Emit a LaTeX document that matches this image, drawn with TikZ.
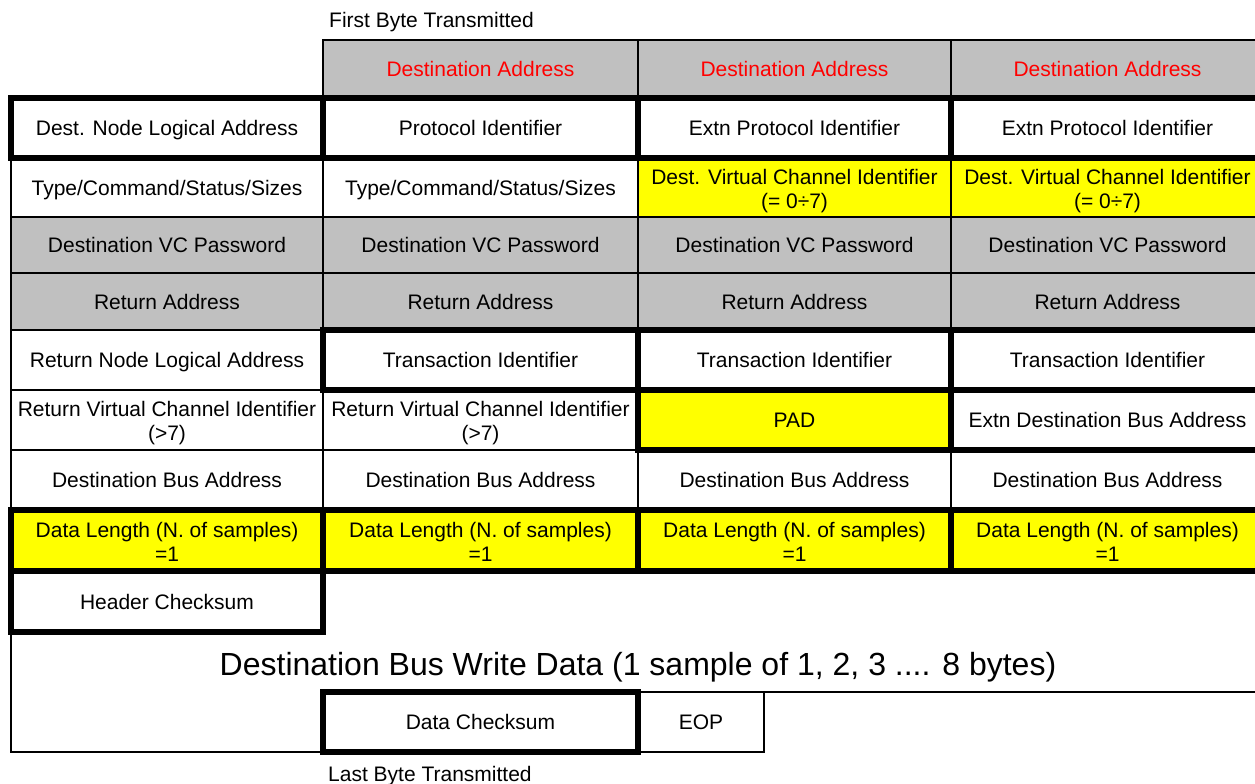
\documentclass[tikz,border=0pt]{standalone}
\usepackage{fontspec}
\setmainfont{Liberation Sans}
\definecolor{hdrgray}{HTML}{C0C0C0}
\definecolor{fieldyellow}{HTML}{FFFF00}
\definecolor{addrred}{HTML}{FF0000}

% one-line packet field: name, left x, right x, top y, bottom y, box style, text style, text
\newcommand\pktcell[8]{%
  \node[cellbox,#6,minimum width={#3-#2},minimum height={#5-#4}]
    (#1) at ({(#2+#3)/2},{(#4+#5)/2}) {};
  \node[celltext,anchor=base,#7] (#1-txt) at ({(#2+#3)/2},{(#4+#5)/2+7.5}) {#8};}
% two-line packet field: same arguments, text lines separated by \\
\newcommand\pktcellii[8]{%
  \node[cellbox,#6,minimum width={#3-#2},minimum height={#5-#4}]
    (#1) at ({(#2+#3)/2},{(#4+#5)/2}) {};
  \node[celltext,anchor=north,#7] (#1-txt) at ({(#2+#3)/2},{(#4+#5)/2-18.5}) {#8};}

\tikzset{
  cellbox/.style={draw=black, line width=2pt, fill=white, inner sep=0pt, outer sep=0pt},
  celltext/.style={inner sep=0pt, outer sep=0pt, align=center, font=\fontsize{21}{24}\selectfont},
  plain/.style={},
  grayfield/.style={fill=hdrgray},
  yellowfield/.style={fill=fieldyellow},
  redtext/.style={text=addrred},
  thickrule/.style={draw=black, line width=5.5pt},
  thinrule/.style={draw=black, line width=2pt},
  sidelabel/.style={font=\fontsize{21}{24}\selectfont, inner sep=0pt, anchor=base west},
}

\begin{document}
\begin{tikzpicture}[x=1pt,y=-1pt]
\useasboundingbox (0,0) rectangle (1255,784);
\clip (0,0) rectangle (1255,784);

% header row
\pktcell{da2}{323}{638}{40}{98}{grayfield}{redtext}{Destination Address}
\pktcell{da3}{638}{951}{40}{98}{grayfield}{redtext}{Destination Address}
\pktcell{da4}{951}{1264}{40}{98}{grayfield}{redtext}{Destination Address}

% row 1
\pktcell{a1}{11}{323}{98}{158}{plain}{plain}{Dest. Node Logical Address}
\pktcell{a2}{323}{638}{98}{158}{plain}{plain}{Protocol Identifier}
\pktcell{a3}{638}{951}{98}{158}{plain}{plain}{Extn Protocol Identifier}
\pktcell{a4}{951}{1264}{98}{158}{plain}{plain}{Extn Protocol Identifier}

% row 2
\pktcell{b1}{11}{323}{158}{217}{plain}{plain}{Type/Command/Status/Sizes}
\pktcell{b2}{323}{638}{158}{217}{plain}{plain}{Type/Command/Status/Sizes}
\pktcellii{b3}{638}{951}{158}{217}{yellowfield}{plain}{Dest. Virtual Channel Identifier\\(= 0÷7)}
\pktcellii{b4}{951}{1264}{158}{217}{yellowfield}{plain}{Dest. Virtual Channel Identifier\\(= 0÷7)}

% row 3
\pktcell{c1}{11}{323}{217}{273}{grayfield}{plain}{Destination VC Password}
\pktcell{c2}{323}{638}{217}{273}{grayfield}{plain}{Destination VC Password}
\pktcell{c3}{638}{951}{217}{273}{grayfield}{plain}{Destination VC Password}
\pktcell{c4}{951}{1264}{217}{273}{grayfield}{plain}{Destination VC Password}

% row 4
\pktcell{d1}{11}{323}{273}{330}{grayfield}{plain}{Return Address}
\pktcell{d2}{323}{638}{273}{330}{grayfield}{plain}{Return Address}
\pktcell{d3}{638}{951}{273}{330}{grayfield}{plain}{Return Address}
\pktcell{d4}{951}{1264}{273}{330}{grayfield}{plain}{Return Address}

% row 5
\pktcell{e1}{11}{323}{330}{390}{plain}{plain}{Return Node Logical Address}
\pktcell{e2}{323}{638}{330}{390}{plain}{plain}{Transaction Identifier}
\pktcell{e3}{638}{951}{330}{390}{plain}{plain}{Transaction Identifier}
\pktcell{e4}{951}{1264}{330}{390}{plain}{plain}{Transaction Identifier}

% row 6
\pktcellii{f1}{11}{323}{390}{450}{plain}{plain}{Return Virtual Channel Identifier\\(>7)}
\pktcellii{f2}{323}{638}{390}{450}{plain}{plain}{Return Virtual Channel Identifier\\(>7)}
\pktcell{f3}{638}{951}{390}{450}{yellowfield}{plain}{PAD}
\pktcell{f4}{951}{1264}{390}{450}{plain}{plain}{Extn Destination Bus Address}

% row 7
\pktcell{g1}{11}{323}{450}{510}{plain}{plain}{Destination Bus Address}
\pktcell{g2}{323}{638}{450}{510}{plain}{plain}{Destination Bus Address}
\pktcell{g3}{638}{951}{450}{510}{plain}{plain}{Destination Bus Address}
\pktcell{g4}{951}{1264}{450}{510}{plain}{plain}{Destination Bus Address}

% row 8
\pktcellii{h1}{11}{323}{510}{571}{yellowfield}{plain}{Data Length (N. of samples)\\=1}
\pktcellii{h2}{323}{638}{510}{571}{yellowfield}{plain}{Data Length (N. of samples)\\=1}
\pktcellii{h3}{638}{951}{510}{571}{yellowfield}{plain}{Data Length (N. of samples)\\=1}
\pktcellii{h4}{951}{1264}{510}{571}{yellowfield}{plain}{Data Length (N. of samples)\\=1}

% header checksum
\pktcell{hck}{11}{323}{571}{632}{plain}{plain}{Header Checksum}

% data payload
\node[inner sep=0pt, anchor=base, font=\fontsize{32}{38}\selectfont] (wdata)
  at (638,675.5) {Destination Bus Write Data (1 sample of 1, 2, 3 .... 8 bytes)};

% trailer
\pktcell{dck}{323}{638}{692}{752}{plain}{plain}{Data Checksum}
\pktcell{eop}{638}{764}{692}{752}{plain}{plain}{EOP}

% outline of the payload area
\coordinate (payloadbl) at (11,752);
\coordinate (payloadtr) at (1264,692);
\draw[thinrule] (hck.south west) -- (payloadbl) -- (dck.south west);
\draw[thinrule] (eop.north east) -- (payloadtr);

% heavy frames around grouped fields
\foreach \n in {a1,a2,a3,a4,e2,e3,e4,f3,f4,h1,h2,h3,h4,hck,dck}
  \draw[thickrule] (\n.north west) rectangle (\n.south east);

% transmission order labels
\node[sidelabel] (firstbyte) at (329,28) {First Byte Transmitted};
\node[sidelabel] (lastbyte) at (328,781) {Last Byte Transmitted};
\end{tikzpicture}
\end{document}
